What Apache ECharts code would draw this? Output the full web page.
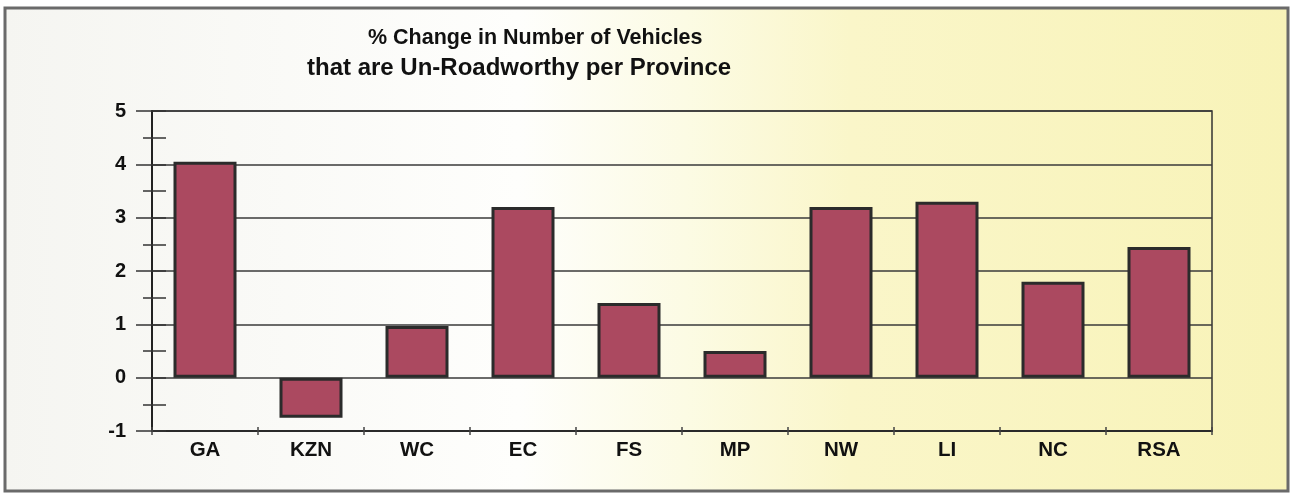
<!DOCTYPE html>
<html>
<head>
<meta charset="utf-8">
<title>% Change in Number of Vehicles that are Un-Roadworthy per Province</title>
<script src="https://cdn.jsdelivr.net/npm/echarts@6/dist/echarts.min.js"></script>
<style>
    html, body { margin: 0; padding: 0; background: #fff; }
    #chart_con { width: 1295px; height: 495px; }
</style>
</head>
<body>
<div id="chart_con"></div>
<script>
// data
const provinces = ['GA', 'KZN', 'WC', 'EC', 'FS', 'MP', 'NW', 'LI', 'NC', 'RSA'];
const changes = [4.05, -0.75, 0.97, 3.2, 1.4, 0.5, 3.2, 3.3, 1.8, 2.45];
const yTicks = { min: -1, max: 5, step: 1 };

const fontFamily = '"Liberation Sans", Arial, sans-serif';

const option = {
    backgroundColor: '#ffffff',
    animation: false,
    graphic: [
        {
            type: 'rect',
            z: -100,
            silent: true,
            shape: { x: 5, y: 8, width: 1283, height: 483 },
            style: {
                stroke: '#6a6a6a',
                lineWidth: 3,
                fill: new echarts.graphic.LinearGradient(0, 0, 1, 0, [
                    { offset: 0, color: '#f5f5f1' },
                    { offset: 0.4, color: '#fefefc' },
                    { offset: 0.53, color: '#fcfbe4' },
                    { offset: 0.66, color: '#faf6c9' },
                    { offset: 1, color: '#f8f3b8' }
                ])
            }
        }
    ],
    title: [
        {
            text: '% Change in Number of Vehicles',
            left: 363,
            top: 22,
            textStyle: { fontFamily: fontFamily, fontWeight: 'bold', fontSize: 21.5, color: '#111' }
        },
        {
            text: 'that are Un-Roadworthy per Province',
            left: 302,
            top: 51,
            textStyle: { fontFamily: fontFamily, fontWeight: 'bold', fontSize: 24, color: '#111' }
        }
    ],
    grid: {
        left: 152,
        right: 83,
        top: 111,
        bottom: 64,
        show: true,
        borderColor: '#333',
        borderWidth: 1.5,
        backgroundColor: 'transparent'
    },
    xAxis: [
        {
            type: 'category',
            data: provinces,
            axisLine: { onZero: false, lineStyle: { color: '#2a2a2a', width: 2 } },
            axisTick: { show: true, inside: false, length: 4, lineStyle: { color: '#444', width: 1.5 } },
            axisLabel: {
                margin: 9,
                fontFamily: fontFamily,
                fontWeight: 'bold',
                fontSize: 20.5,
                color: '#111'
            },
            splitLine: { show: false }
        },
        {
            // second copy only for the inner half of the crossing ticks
            type: 'category',
            data: provinces,
            position: 'bottom',
            axisLine: { show: false, onZero: false },
            axisTick: { show: true, inside: true, length: 4, lineStyle: { color: '#444', width: 1.5 } },
            axisLabel: { show: false },
            splitLine: { show: false }
        }
    ],
    yAxis: [
        {
            type: 'value',
            min: yTicks.min,
            max: yTicks.max,
            interval: yTicks.step,
            axisLine: { show: true, lineStyle: { color: '#222', width: 2 } },
            axisTick: { show: true, length: 16, lineStyle: { color: '#333', width: 1.5 } },
            minorTick: { show: true, splitNumber: 2, length: 9, lineStyle: { color: '#333', width: 1.5 } },
            axisLabel: {
                margin: 26,
                fontFamily: fontFamily,
                fontWeight: 'bold',
                fontSize: 20,
                color: '#111'
            },
            splitLine: { show: true, lineStyle: { color: '#3a3a3a', width: 1.5 } }
        },
        {
            type: 'value',
            position: 'left',
            min: yTicks.min,
            max: yTicks.max,
            interval: yTicks.step / 2,
            axisLine: { show: false },
            axisTick: { show: true, inside: true, length: 14, lineStyle: { color: '#333', width: 1.5 } },
            axisLabel: { show: false },
            splitLine: { show: false }
        }
    ],
    series: [
        {
            name: '% change',
            type: 'bar',
            xAxisIndex: 0,
            yAxisIndex: 0,
            barWidth: 63,
            itemStyle: {
                color: '#ab4960',
                borderColor: '#2b2b2b',
                borderWidth: 3
            },
            data: changes
        }
    ]
};

const vehicleCharts = echarts.init(document.getElementById('chart_con'));
vehicleCharts.setOption(option);

window.addEventListener('resize', function () {
    vehicleCharts.resize();
});
</script>
</body>
</html>
